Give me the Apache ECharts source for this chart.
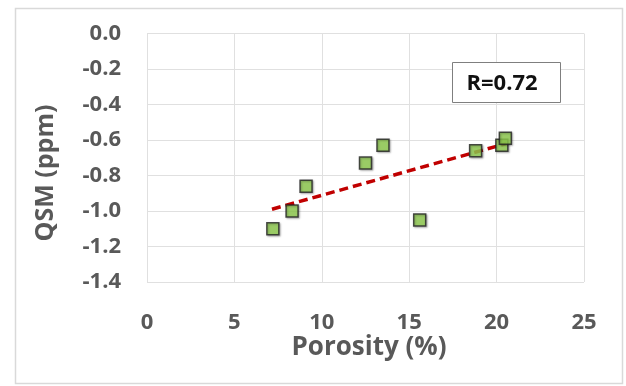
<!DOCTYPE html>
<html>
<head>
<meta charset="utf-8">
<script src="https://cdn.jsdelivr.net/npm/echarts@6/dist/echarts.min.js"></script>
<style>
  html, body { margin: 0; padding: 0; background: #fff; }
  #chart { width: 626px; height: 386px; }
</style>
</head>
<body>
<div id="chart"></div>
<script>
// porosity (%) vs QSM (ppm)
const porosity = [7.2, 8.3, 9.1, 12.5, 13.5, 15.6, 18.8, 20.3, 20.5]
const qsm = [-1.10, -1.00, -0.86, -0.73, -0.63, -1.05, -0.66, -0.63, -0.59]
const trendX = [7.15, 20.55]
const trendY = [-0.99, -0.62]
const rLabel = 'R=0.72'
const xTitle = 'Porosity (%)'
const yTitle = 'QSM (ppm)'

const axisText = '#595959'
const fontFam = '"Open Sans", "Noto Sans", sans-serif'

let chart = echarts.init(document.getElementById('chart'))
let option = {
  animation: false,
  grid: { left: 147, right: 42, top: 33.5, bottom: 104 },
  xAxis: {
    type: 'value',
    min: 0,
    max: 25,
    interval: 5,
    axisLine: { show: false },
    axisTick: { show: false },
    axisLabel: { color: axisText, fontSize: 22, fontWeight: 'bold', fontFamily: fontFam, margin: 30 },
    splitLine: { lineStyle: { color: '#e0e0e0', width: 1 } }
  },
  yAxis: {
    type: 'value',
    min: -1.4,
    max: 0,
    interval: 0.2,
    axisLine: { show: false },
    axisTick: { show: false },
    axisLabel: {
      color: axisText,
      fontSize: 22,
      fontWeight: 'bold',
      fontFamily: fontFam,
      margin: 26,
      formatter: (v) => v.toFixed(1)
    },
    splitLine: { lineStyle: { color: '#e0e0e0', width: 1 } }
  },
  graphic: [
    {
      type: 'rect',
      shape: { x: 15.5, y: 8.5, width: 607, height: 375 },
      style: { fill: 'none', stroke: '#d9d9d9', lineWidth: 1.5 },
      z: 0
    },
    {
      type: 'text',
      x: 369,
      y: 348,
      style: {
        text: xTitle,
        fill: axisText,
        font: 'bold 26px ' + fontFam,
        align: 'center',
        verticalAlign: 'middle'
      }
    },
    {
      type: 'text',
      x: 46,
      y: 173,
      rotation: Math.PI / 2,
      style: {
        text: yTitle,
        fill: axisText,
        font: 'bold 25px ' + fontFam,
        align: 'center',
        verticalAlign: 'middle'
      }
    },
    {
      type: 'rect',
      shape: { x: 452.5, y: 62.5, width: 108, height: 40 },
      style: { fill: '#fff', stroke: '#7f7f7f', lineWidth: 1 },
      z: 10
    },
    {
      type: 'text',
      x: 502,
      y: 84,
      style: {
        text: rLabel,
        fill: '#111',
        font: 'bold 22px ' + fontFam,
        align: 'center',
        verticalAlign: 'middle'
      },
      z: 11
    }
  ],
  series: [
    {
      type: 'line',
      data: trendX.map((x, i) => [x, trendY[i]]),
      symbol: 'none',
      lineStyle: { color: '#c00000', width: 3.5, type: [9, 5] },
      z: 2
    },
    {
      type: 'scatter',
      data: porosity.map((x, i) => [x, qsm[i]]),
      symbol: 'rect',
      symbolSize: 12,
      itemStyle: {
        color: '#92d050',
        borderColor: '#222',
        borderWidth: 1.5,
        shadowColor: 'rgba(0,0,0,0.35)',
        shadowBlur: 2,
        shadowOffsetX: 1,
        shadowOffsetY: 1
      },
      z: 3
    }
  ]
}
chart.setOption(option)
</script>
</body>
</html>
